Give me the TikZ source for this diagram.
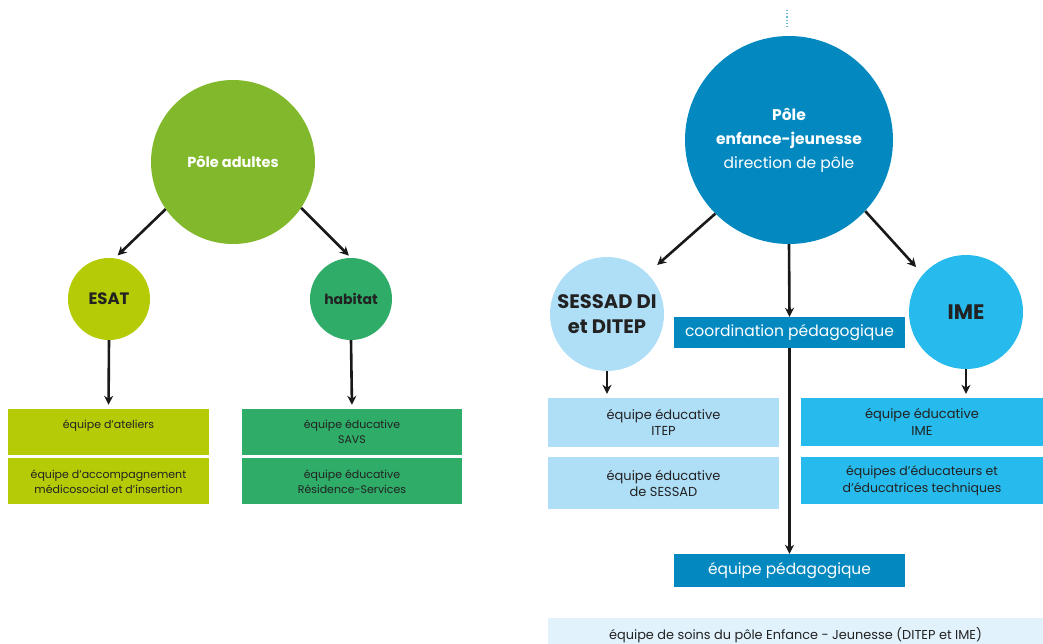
\documentclass[tikz,border=0pt]{standalone}
\usepackage{fontspec}
\setmainfont{Poppins}
\usetikzlibrary{arrows.meta,positioning}

\definecolor{adultgreen}{HTML}{82B92C}
\definecolor{esatyellow}{HTML}{B4CB05}
\definecolor{habitatgreen}{HTML}{2EAC68}
\definecolor{enfblue}{HTML}{0389C0}
\definecolor{sessadblue}{HTML}{AFDEF7}
\definecolor{imecyan}{HTML}{27BAEC}
\definecolor{soinsblue}{HTML}{E1F2FC}
\definecolor{inkgray}{HTML}{222222}

\tikzset{
	pole/.style={circle, inner sep=0pt, align=center, text=inkgray},
	team/.style={rectangle, inner sep=0pt, align=center, text=inkgray},
	link/.style={-{Stealth[length=9pt,width=9pt]}, line width=2.6pt, black!90},
}

\begin{document}
\begin{tikzpicture}[x=1pt,y=-1pt]
	\useasboundingbox (0,0) rectangle (1043,644);
	
	\node[pole, fill=adultgreen, minimum size=164pt, text=white, font=\bfseries\fontsize{14.5}{17}\selectfont] (pa) at (233,162) {Pôle adultes};
	\node[pole, fill=esatyellow, minimum size=82pt, font=\bfseries\fontsize{16.5}{18}\selectfont] (esat) at (109,299) {ESAT};
	\node[pole, fill=habitatgreen, minimum size=82pt, font=\bfseries\fontsize{14}{18}\selectfont] (habitat) at (351,299) {habitat};
	
	\node[team, fill=esatyellow, minimum width=201pt, minimum height=46pt, font=\fontsize{11}{15}\selectfont] (ateliers) at (108.5,432) {équipe d’ateliers\\\mbox{}};
	\node[team, fill=esatyellow, minimum width=201pt, minimum height=46pt, font=\fontsize{11}{15}\selectfont, below=3pt of ateliers] (accomp) {équipe d’accompagnement\\médicosocial et d’insertion};
	\node[team, fill=habitatgreen, minimum width=220pt, minimum height=46pt, font=\fontsize{11}{15}\selectfont] (savs) at (352,432) {équipe éducative\\SAVS};
	\node[team, fill=habitatgreen, minimum width=220pt, minimum height=46pt, font=\fontsize{11}{15}\selectfont, below=3pt of savs] (residence) {équipe éducative\\Résidence-Services};
	
	\draw[link, shorten >=4pt] (pa.215) -- (esat.82);
	\draw[link, shorten >=3pt] (pa.326) -- (habitat.north);
	\draw[link, shorten >=4pt] (esat.south) -- (ateliers.north);
	\draw[link, shorten >=4pt] (habitat.south) -- (savs.north);
	
	\coordinate (cut1) at (787,10);
	\coordinate (cut2) at (787,29);
	\draw[dotted, line width=1.2pt, enfblue!60] (cut1) -- (cut2);
	
	\node[pole, fill=enfblue, minimum size=208pt, text=white, font=\fontsize{15.5}{24}\selectfont] (pe) at (789,140) {\textbf{Pôle}\\\textbf{enfance-jeunesse}\\direction de pôle};
	\node[pole, fill=sessadblue, minimum size=114pt, font=\bfseries\fontsize{19.5}{25}\selectfont] (sessad) at (607,314) {SESSAD DI\\et DITEP};
	\node[pole, fill=imecyan, minimum size=114pt, font=\bfseries\fontsize{21}{22}\selectfont] (ime) at (966,312) {IME};
	
	\node[team, fill=enfblue, text=white, minimum width=231pt, minimum height=31pt, font=\fontsize{15.5}{17}\selectfont] (coord) at (789.5,332.5) {coordination pédagogique};
	\node[team, fill=enfblue, text=white, minimum width=231pt, minimum height=33pt, font=\fontsize{15.4}{17}\selectfont] (peda) at (789.5,570.5) {équipe pédagogique};
	
	\node[team, fill=sessadblue, minimum width=231pt, minimum height=49pt, font=\fontsize{13}{16.5}\selectfont] (itep) at (663.5,422.5) {équipe éducative\\ITEP};
	\node[team, fill=sessadblue, minimum width=231pt, minimum height=52pt, font=\fontsize{13}{16.5}\selectfont, below=10pt of itep] (sessadteam) {équipe éducative\\de SESSAD};
	\node[team, fill=imecyan, minimum width=242pt, minimum height=48pt, font=\fontsize{13}{16.5}\selectfont] (imeedu) at (922,422) {équipe éducative\\IME};
	\node[team, fill=imecyan, minimum width=242pt, minimum height=47pt, font=\fontsize{12.5}{16.5}\selectfont, below=11pt of imeedu] (imetech) {équipes d’éducateurs et\\d’éducatrices techniques};
	
	\node[team, fill=soinsblue, minimum width=495pt, minimum height=34pt, font=\fontsize{12.9}{15}\selectfont] (soins) at (795.5,635) {équipe de soins du pôle Enfance - Jeunesse (DITEP et IME)};
	
	\draw[link, shorten >=13pt] (pe.225) -- (sessad.45);
	\draw[link, shorten >=10pt] (pe.-43) -- (ime.139);
	\draw[link] (pe.south) -- (coord.north);
	\draw[link] (coord.south) -- (peda.north);
	\draw[link, shorten >=4pt] (sessad.south) -- (sessad.south |- itep.north);
	\draw[link, shorten >=4pt] (ime.south) -- (ime.south |- imeedu.north);
\end{tikzpicture}
\end{document}
